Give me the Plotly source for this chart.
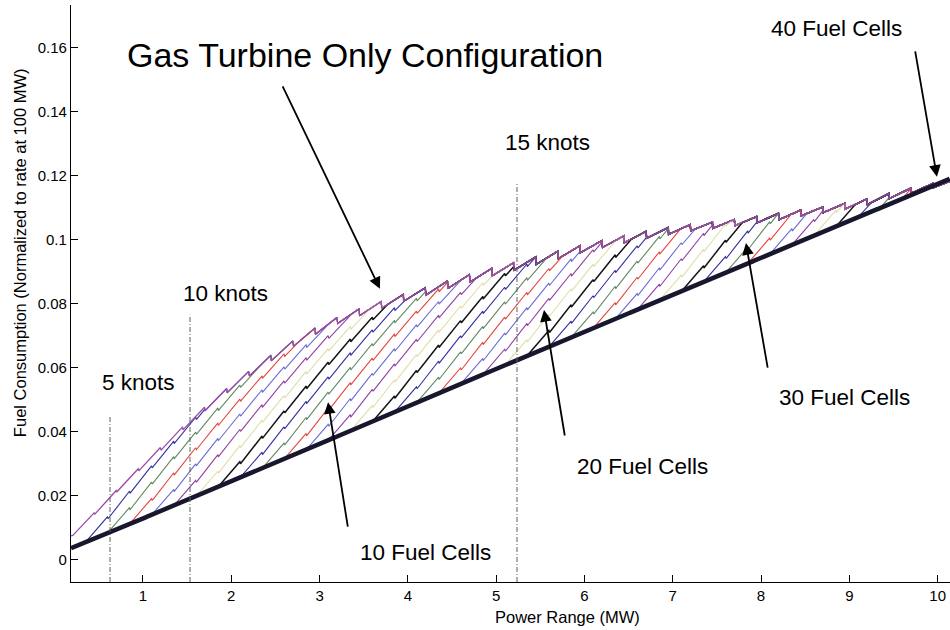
import numpy as np
import plotly.graph_objects as go

# ---------------------------------------------------------------------------
# Gas turbine only: fuel at each sawtooth peak and the drop right after it
# ---------------------------------------------------------------------------
GT_PEAK_POWER = [0.20, 0.45, 0.70, 0.95, 1.20, 1.45, 1.70, 1.95, 2.20, 2.45,
                 2.70, 2.95, 3.20, 3.45, 3.70, 3.95, 4.20, 4.45, 4.70, 4.95,
                 5.20, 5.45, 5.70, 5.95, 6.20, 6.45, 6.70, 6.95, 7.20, 7.45,
                 7.70, 7.95, 8.20, 8.45, 8.70, 8.95, 9.20, 9.45, 9.70, 9.95,
                 10.20]
GT_PEAK_FUEL = [0.0075, 0.0148, 0.0218, 0.0286, 0.0352, 0.0416, 0.0478, 0.0536,
                0.0590, 0.0640, 0.0685, 0.0725, 0.0758, 0.0785, 0.0808, 0.0830,
                0.0851, 0.0872, 0.0892, 0.0911, 0.0929, 0.0947, 0.0965, 0.0982,
                0.0998, 0.1013, 0.1027, 0.1039, 0.1048, 0.1056, 0.1064, 0.1073,
                0.1083, 0.1093, 0.1103, 0.1114, 0.1128, 0.1145, 0.1162, 0.1177,
                0.1190]
GT_TOOTH_DROP = [0.0000, 0.0006, 0.0006, 0.0008, 0.0010, 0.0010, 0.0012, 0.0014,
                 0.0016, 0.0018, 0.0018, 0.0020, 0.0020, 0.0022, 0.0022, 0.0022,
                 0.0024, 0.0024, 0.0024, 0.0024, 0.0024, 0.0024, 0.0024, 0.0022,
                 0.0022, 0.0022, 0.0022, 0.0022, 0.0020, 0.0020, 0.0020, 0.0020,
                 0.0020, 0.0018, 0.0018, 0.0018, 0.0018, 0.0016, 0.0016, 0.0014,
                 0.0000]

# ---------------------------------------------------------------------------
# All-fuel-cell operating line
# ---------------------------------------------------------------------------
FC_POWER = [0.185, 1.53, 5.24, 10.14]
FC_FUEL = [0.0037, 0.0190, 0.0625, 0.1191]

# ---------------------------------------------------------------------------
# Number of fuel cells and the load at which the gas turbine picks up
# ---------------------------------------------------------------------------
CELL_COUNT = list(range(1, 41))
HANDOFF_POWER = [0.35, 0.60, 0.85, 1.10, 1.35, 1.60, 1.85, 2.10, 2.35, 2.60,
                 2.85, 3.10, 3.35, 3.60, 3.85, 4.10, 4.35, 4.60, 4.85, 5.10,
                 5.35, 5.60, 5.85, 6.10, 6.35, 6.60, 6.85, 7.10, 7.35, 7.60,
                 7.85, 8.10, 8.35, 8.60, 8.85, 9.10, 9.35, 9.60, 9.85, 10.10]

# Extra fuel above the hand-off point as the turbine loads up
CLIMB_POWER = [0.00, 0.25, 0.50, 0.75, 1.00, 1.25, 1.50, 1.75, 2.00, 2.25,
               2.50, 2.75, 3.00, 3.25, 3.50, 3.75, 4.00]
CLIMB_FUEL = [0.0000, 0.0080, 0.0160, 0.0239, 0.0316, 0.0391, 0.0463, 0.0532,
              0.0598, 0.0661, 0.0720, 0.0776, 0.0828, 0.0876, 0.0920, 0.0960,
              0.0996]
CLIMB_TOOTH_DROP = [0.0000, 0.0008, 0.0008, 0.0008, 0.0009, 0.0009, 0.0009,
                    0.0010, 0.0010, 0.0010, 0.0010, 0.0010, 0.0010, 0.0010,
                    0.0010, 0.0010, 0.0000]

# ---------------------------------------------------------------------------
# Ship speed reference lines
# ---------------------------------------------------------------------------
SPEED_LABELS = ["5 knots", "10 knots", "15 knots"]
SPEED_POWER = [0.627, 1.533, 5.236]
SPEED_LINE_TOP = [0.0447, 0.0766, 0.1180]

X_TICKS = [1, 2, 3, 4, 5, 6, 7, 8, 9, 10]
Y_TICKS = [0, 0.02, 0.04, 0.06, 0.08, 0.10, 0.12, 0.14, 0.16]
Y_TICK_TEXT = ["0", "0.02", "0.04", "0.06", "0.08", "0.1", "0.12", "0.14", "0.16"]

X_RANGE = [0.185, 10.14]
Y_RANGE = [-0.0069, 0.1734]

FONT = "Liberation Sans, Arial, sans-serif"
GT_COLOR = "#9a4aa6"
# b, g, r, c, m, y, k colour cycle as it prints
CYCLE = ["#141414", "#30309e", "#5f8a62", "#e4463e", "#6b6bd6", "#9140a0", "#e2dea6"]


def sawtooth(peak_x, peak_y, drops):
    xs, ys = [], []
    for x, y, d in zip(peak_x, peak_y, drops):
        xs.append(x)
        ys.append(y)
        if d > 0:
            xs.append(x + 0.002)
            ys.append(y - d)
    return np.array(xs), np.array(ys)


grid = np.arange(X_RANGE[0], X_RANGE[1] + 1e-9, 0.004)
gt_x, gt_y = sawtooth(GT_PEAK_POWER, GT_PEAK_FUEL, GT_TOOTH_DROP)
cl_x, cl_y = sawtooth(CLIMB_POWER, CLIMB_FUEL, CLIMB_TOOTH_DROP)
gt_on_grid = np.interp(grid, gt_x, gt_y)
fc_on_grid = np.interp(grid, FC_POWER, FC_FUEL)

fig = go.Figure()

# One curve per fuel-cell count: runs on fuel cells, then the turbine climbs
# until it meets the turbine-only curve and follows it from there on
for n, p0 in zip(CELL_COUNT, HANDOFF_POWER):
    if p0 >= X_RANGE[1]:
        continue
    f0 = float(np.interp(p0, FC_POWER, FC_FUEL))
    xs = np.concatenate([[p0], grid[grid > p0]])
    climb = f0 + np.interp(xs - p0, cl_x, cl_y)
    cap = np.interp(xs, gt_x, gt_y)
    ys = climb.copy()
    met = np.nonzero(climb >= cap)[0]
    if met.size:
        ys[met[0]:] = cap[met[0]:]
    color = CYCLE[n % 7]
    fig.add_trace(go.Scatter(
        x=xs, y=ys, mode="lines",
        line=dict(color=color, width=1.5 if n % 7 == 0 else 1.1),
        hoverinfo="skip", showlegend=False))

# Gas turbine only configuration
fig.add_trace(go.Scatter(
    x=grid, y=gt_on_grid, mode="lines",
    line=dict(color=GT_COLOR, width=1.3),
    hoverinfo="skip", showlegend=False))

# Fuel cell line shared by every configuration
fig.add_trace(go.Scatter(
    x=grid, y=fc_on_grid, mode="lines",
    line=dict(color="#17172e", width=4.5),
    hoverinfo="skip", showlegend=False))

# Speed markers
for p, top in zip(SPEED_POWER, SPEED_LINE_TOP):
    fig.add_trace(go.Scatter(
        x=[p, p], y=[Y_RANGE[0], top], mode="lines",
        line=dict(color="#606060", width=1, dash="5px,2px,1px,2px"),
        hoverinfo="skip", showlegend=False))

annotations = []


def label(text, x, y, size=22.5, xref="x", yref="y", angle=0):
    annotations.append(dict(
        text=text, x=x, y=y, xref=xref, yref=yref, showarrow=False,
        xanchor="center", yanchor="middle", textangle=angle,
        font=dict(family=FONT, size=size, color="black")))


def arrow(x, y, ax, ay):
    annotations.append(dict(
        text="", x=x, y=y, xref="x", yref="y", ax=ax, ay=ay,
        showarrow=True, arrowhead=2, arrowsize=1.3, arrowwidth=1.8,
        arrowcolor="black", standoff=0))


label("Gas Turbine Only Configuration", 0.3345, 0.9133, size=34,
      xref="paper", yref="paper")
label(SPEED_LABELS[2], 5.587, 0.1303)
label(SPEED_LABELS[1], 1.940, 0.0831)
label(SPEED_LABELS[0], 0.955, 0.0553)
label("40 Fuel Cells", 8.849, 0.1662)
label("30 Fuel Cells", 8.950, 0.0509)
label("20 Fuel Cells", 6.652, 0.0293)
label("10 Fuel Cells", 4.205, 0.0022)

arrow(3.684, 0.0847, -98, -204)
arrow(9.992, 0.1197, -22, -127)
arrow(7.829, 0.0990, 22, 126)
arrow(5.542, 0.0781, 21, 127)
arrow(3.096, 0.0493, 20, 126)

label("Fuel Consumption (Normalized to rate at 100 MW)", -0.058, 0.570,
      size=16.5, xref="paper", yref="paper", angle=-90)
label("Power Range (MW)", 0.5654, -0.0607, size=16.5, xref="paper", yref="paper")

fig.update_layout(
    width=950, height=630,
    margin=dict(l=71, r=0, t=5, b=48),
    paper_bgcolor="white", plot_bgcolor="white",
    annotations=annotations,
    font=dict(family=FONT, color="black"),
    xaxis=dict(range=X_RANGE, tickvals=X_TICKS, ticks="inside", ticklen=7,
               tickwidth=1.2, tickcolor="black", showline=True, linecolor="black",
               linewidth=1.3, showgrid=False, zeroline=False,
               tickfont=dict(family=FONT, size=15, color="black")),
    yaxis=dict(range=Y_RANGE, tickvals=Y_TICKS, ticktext=Y_TICK_TEXT,
               ticks="inside", ticklen=7, tickwidth=1.2, tickcolor="black",
               showline=True, linecolor="black", linewidth=1.3, showgrid=False,
               zeroline=False, tickfont=dict(family=FONT, size=15, color="black")),
)

fig.write_html("out.html")
